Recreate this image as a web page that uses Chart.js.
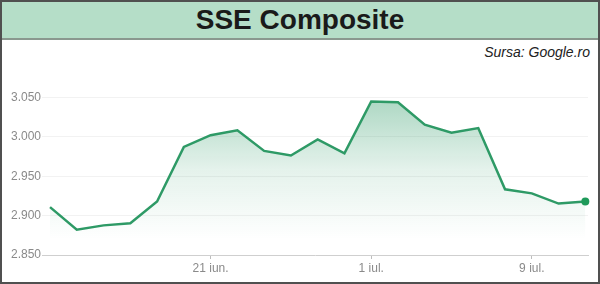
<!DOCTYPE html>
<html>
<head>
<meta charset="utf-8">
<script src="https://cdn.jsdelivr.net/npm/chart.js@4.4.1/dist/chart.umd.min.js"></script>
<style>
  html, body { margin: 0; padding: 0; background: #fff; }
  #frame { position: relative; width: 600px; height: 284px; box-sizing: border-box; border: 2px solid #505050; overflow: hidden; background: #fff; }
  #title { position: absolute; left: 0; top: 0; width: 596px; height: 36px; background: #b5dec8; border-bottom: 2px solid #8a988f;
           font-family: "Liberation Sans", Arial, sans-serif; font-weight: bold; font-size: 28px; color: #1a1a1a; text-align: center; line-height: 36px; }
  #source { position: absolute; right: 8px; top: 42px; font-family: "Liberation Sans", Arial, sans-serif; font-style: italic; font-size: 14px; color: #222; }
  #wrap { position: absolute; left: 0; top: 38px; width: 596px; height: 242px; }
</style>
</head>
<body>
<div id="frame">
  <div id="title">SSE Composite</div>
  <div id="source">Sursa: Google.ro</div>
  <div id="wrap"><canvas id="c"></canvas></div>
</div>
<script>
// Trading days (2019) and closing values of SSE Composite
const dates = ["13 iun.","14 iun.","17 iun.","18 iun.","19 iun.","20 iun.","21 iun.","24 iun.","25 iun.","26 iun.","27 iun.","28 iun.",
               "1 iul.","2 iul.","3 iul.","4 iul.","5 iul.","8 iul.","9 iul.","10 iul.","11 iul."];
const values = [2910.7, 2882.0, 2887.6, 2890.2, 2917.8, 2987.1, 3002.0, 3008.2, 2982.1, 2976.3, 2996.8, 2978.9,
                3044.9, 3043.9, 3015.3, 3005.3, 3011.1, 2933.4, 2928.2, 2915.3, 2917.8];
const xTickLabels = ["21 iun.", "1 iul.", "9 iul."];
const yTicks = [2850, 2900, 2950, 3000, 3050];

const xTickIdx = xTickLabels.map(l => dates.indexOf(l));
const points = values.map((v, i) => ({ x: i, y: v }));
const lineColor = '#2e9a66';
const fmt = v => String(v).replace(/(\d)(\d{3})$/, '$1.$2');

new Chart(document.getElementById('c'), {
  type: 'line',
  data: {
    datasets: [{
      data: points,
      clip: 8,
      borderColor: lineColor,
      borderWidth: 2.5,
      tension: 0,
      fill: 'start',
      backgroundColor: (ctx) => {
        const { chart } = ctx;
        const area = chart.chartArea;
        if (!area) return 'rgba(46,154,102,0.2)';
        const ys = chart.scales.y;
        const g = chart.ctx.createLinearGradient(0, ys.getPixelForValue(3050), 0, ys.getPixelForValue(2870));
        g.addColorStop(0, 'rgba(46,154,102,0.40)');
        g.addColorStop(0.5, 'rgba(46,154,102,0.13)');
        g.addColorStop(1, 'rgba(46,154,102,0)');
        return g;
      },
      pointRadius: (ctx) => ctx.dataIndex === values.length - 1 ? 4 : 0,
      pointBackgroundColor: '#1f9a5a',
      pointBorderColor: '#1f9a5a',
      pointBorderWidth: 0,
      pointHoverRadius: 0
    }]
  },
  options: {
    responsive: true,
    maintainAspectRatio: false,
    animation: false,
    events: [],
    layout: { padding: { top: 18, right: 10, left: 0, bottom: 0 } },
    plugins: { legend: { display: false }, tooltip: { enabled: false } },
    scales: {
      x: {
        type: 'linear',
        min: -0.3,
        max: 20.1,
        afterBuildTicks: (s) => { s.ticks = xTickIdx.map(v => ({ value: v })); },
        afterFit: (s) => { s.height = 27; },
        ticks: {
          autoSkip: false,
          maxRotation: 0,
          padding: 2,
          color: '#8a8a8a',
          font: { family: '"Liberation Sans", Arial, sans-serif', size: 12 },
          callback: (v) => xTickLabels[xTickIdx.indexOf(v)]
        },
        grid: { drawOnChartArea: false, drawTicks: true, tickLength: 4, color: '#bdbdbd' },
        border: { display: true, color: '#cfcfcf', width: 1 }
      },
      y: {
        min: 2850,
        max: 3100,
        afterBuildTicks: (s) => { s.ticks = yTicks.map(v => ({ value: v })); },
        afterFit: (s) => { s.width = 40; },
        ticks: {
          padding: 1,
          color: '#8a8a8a',
          font: { family: '"Liberation Sans", Arial, sans-serif', size: 12 },
          callback: (v) => fmt(v)
        },
        grid: { drawTicks: false, color: (ctx) => ctx.tick && ctx.tick.value === 2850 ? 'rgba(0,0,0,0)' : '#f2f2f2' },
        border: { display: false }
      }
    }
  }
});
</script>
</body>
</html>
